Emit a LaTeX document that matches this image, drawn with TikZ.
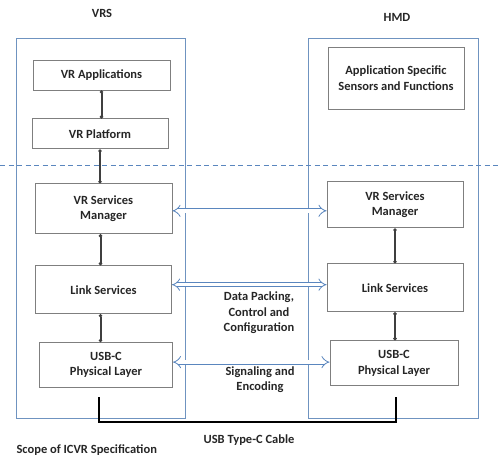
\documentclass[tikz,border=0pt]{standalone}
\usepackage{fontspec}
\setmainfont{Carlito}
\usetikzlibrary{arrows.meta, positioning}

\definecolor{frameblue}{HTML}{6F93C0}
\definecolor{arrowblue}{HTML}{5A86BE}
\definecolor{boxgray}{HTML}{7F7F7F}
\definecolor{txtgray}{HTML}{262626}
\definecolor{linkgray}{HTML}{3F3F3F}

\begin{document}
\begin{tikzpicture}[
  x=1pt, y=-1pt,
  font=\fontsize{12.5}{15.5}\selectfont\bfseries, text=txtgray,
  box/.style={draw=boxgray, line width=0.9pt, rectangle, minimum width=136pt, align=center},
  frame/.style={draw=frameblue, line width=0.9pt, rectangle, minimum width=169pt, minimum height=380pt},
  link/.style={draw=linkgray, line width=2pt, {Circle[length=3.2pt]}-{Circle[length=3.2pt]}},
  iface/.style={draw=arrowblue, double, double distance=3.5pt, line width=0.8pt, {Implies[scale=1.3]}-{Implies[scale=1.3]}},
  cable/.style={draw=black, line width=2.4pt}
]
\useasboundingbox (0,0) rectangle (501,463);

% Containers
\node[frame] (vrs) at (100.5,228) {};
\node[frame, minimum width=170pt] (hmd) at (393,228) {};
\node (vrstitle) at (102,13) {VRS};
\node (hmdtitle) at (397,17) {HMD};

% Divider
\coordinate (divL) at (0,165);
\coordinate (divR) at (501,165);
\draw[arrowblue, line width=0.9pt, dash pattern=on 5pt off 3.5pt] (divL) -- (divR);

% VRS column
\node[box, minimum width=137pt, minimum height=30pt] (app) at (101.5,75) {VR Applications};
\node[box, minimum height=30pt, below=28pt of app, xshift=-1.5pt] (plat) {VR Platform};
\node[box, minimum width=137pt, minimum height=50pt, below=34pt of plat, xshift=3.5pt] (lvsm) {VR Services\\Manager};
\node[box, minimum height=48pt, below=31pt of lvsm] (llink) {Link Services};
\node[box, minimum width=133pt, minimum height=45pt, below=28pt of llink, xshift=2.5pt] (lusb) {USB-C\\Physical Layer};

% HMD column
\node[box, minimum height=62pt] (asf) at (396,78) {Application Specific\\Sensors and Functions};
\node[box, minimum height=46pt, below=72pt of asf, xshift=-1pt] (rvsm) {VR Services\\Manager};
\node[box, minimum height=48pt, below=35pt of rvsm] (rlink) {Link Services};
\node[box, minimum width=128pt, minimum height=45pt, below=28pt of rlink, xshift=-1pt] (rusb) {USB-C\\Physical Layer};

% Stack links
\draw[link] (app.south) -- (app.south |- plat.north);
\draw[link] (plat.south) -- (plat.south |- lvsm.north);
\draw[link] ([xshift=-3pt]lvsm.south) -- ([xshift=-3pt]lvsm.south |- llink.north);
\draw[link] ([xshift=-3pt]llink.south) -- ([xshift=-3pt]llink.south |- lusb.north);
\draw[link] (rvsm.south) -- (rvsm.south |- rlink.north);
\draw[link] (rlink.south) -- (rlink.south |- rusb.north);

% Peer interfaces
\draw[iface] ([yshift=-2pt]lvsm.east) -- ([yshift=-2pt]lvsm.east -| rvsm.west);
\draw[iface] ([yshift=5pt]llink.east) -- ([yshift=5pt]llink.east -| rlink.west);
\draw[iface] ([yshift=3pt]lusb.east) -- ([yshift=3pt]lusb.east -| rusb.west);
\node[align=center] (packing) at (259,313) {Data Packing,\\Control and\\Configuration};
\node[align=center] (signaling) at (260,379.5) {Signaling and\\Encoding};

% Cable
\coordinate (cableL) at (99,397);
\coordinate (cableR) at (396,397);
\draw[cable] (cableL) -- ++(0,25) -| (cableR);
\node (cablelabel) at (249,440) {USB Type-C Cable};
\node[anchor=west] (scope) at (13,450) {Scope of ICVR Specification};

\end{tikzpicture}
\end{document}
